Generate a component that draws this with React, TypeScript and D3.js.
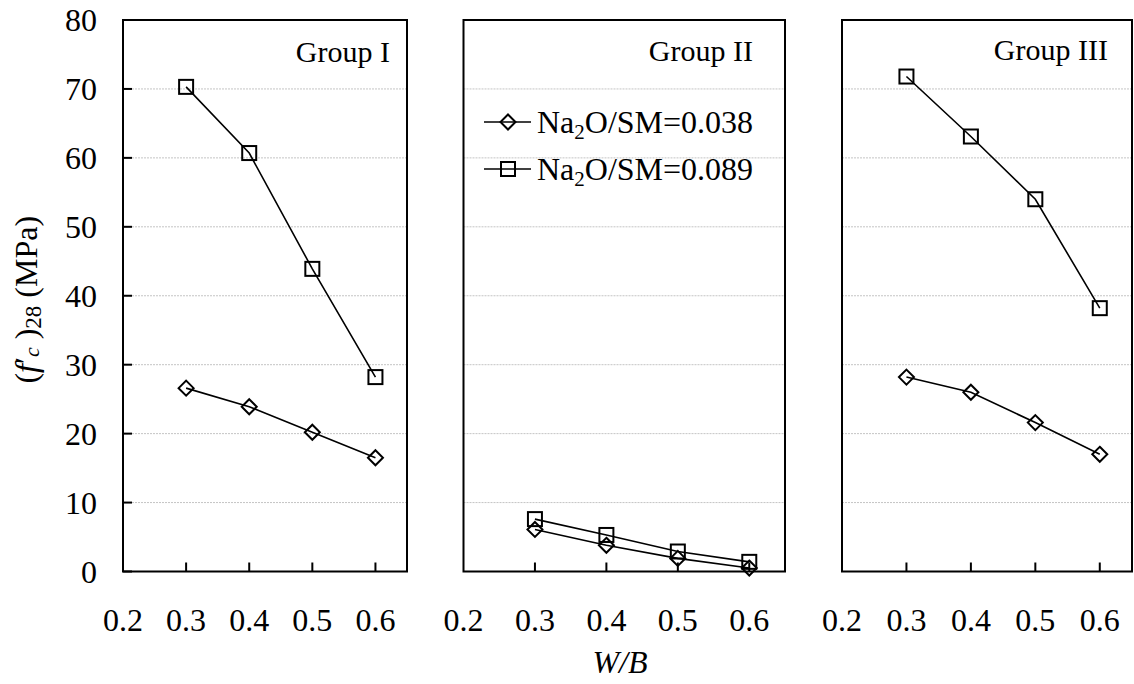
import React from "react";
import * as d3 from "d3";

// W/B ratios
const wbValues = [0.3, 0.4, 0.5, 0.6];
const xTicks = [0.2, 0.3, 0.4, 0.5, 0.6];
const yTicks = [0, 10, 20, 30, 40, 50, 60, 70, 80];
const groupNames = ["Group I", "Group II", "Group III"];
const seriesNames = ["0.038", "0.089"];

// (f'c)28 in MPa
const groupI_038 = [26.6, 23.9, 20.2, 16.5];
const groupI_089 = [70.3, 60.7, 43.9, 28.2];
const groupII_038 = [6.1, 3.8, 1.9, 0.5];
const groupII_089 = [7.6, 5.3, 2.9, 1.4];
const groupIII_038 = [28.2, 26.0, 21.6, 17.0];
const groupIII_089 = [71.8, 63.1, 54.0, 38.2];

const FONT = '"Liberation Serif", "Times New Roman", Times, "DejaVu Serif", serif';
const top = 20;
const bottom = 571.5;

// pixel extents of the three panels
const panels = [
  { x0: 123, x1: 407, low: groupI_038, high: groupI_089, labelX: 390, labelY: 62 },
  { x0: 463.5, x1: 785, low: groupII_038, high: groupII_089, labelX: 753, labelY: 61 },
  { x0: 842, x1: 1132, low: groupIII_038, high: groupIII_089, labelX: 1108, labelY: 60 },
];

const diamond = (s: number) => `M0,${-s}L${s},0L0,${s}L${-s},0Z`;

const Marker = ({ kind, x, y }: { kind: string; x: number; y: number }) =>
  kind === "diamond" ? (
    <path d={diamond(7.5)} transform={`translate(${x},${y})`} fill="none" stroke="#000" strokeWidth={2} />
  ) : (
    <rect x={x - 7} y={y - 7} width={14} height={14} fill="none" stroke="#000" strokeWidth={2} />
  );

export default function App() {
  const y = d3.scaleLinear().domain([0, 80]).range([bottom, top]);

  return (
    <svg width={1134} height={684} style={{ position: "absolute", left: 0, top: 0, background: "#fff", fontFamily: FONT }}>
      {panels.map((p, pi) => {
        const x = d3.scaleLinear().domain([0.2, 0.65]).range([p.x0, p.x1]);
        const line = d3
          .line<number>()
          .x((_, i) => x(wbValues[i]))
          .y((d) => y(d));
        return (
          <g key={pi}>
            {/* gridlines */}
            {yTicks.slice(1, -1).map((t) => (
              <line key={t} x1={p.x0} x2={p.x1} y1={y(t)} y2={y(t)} stroke="#c4c4c4" strokeWidth={1} strokeDasharray="2,1" />
            ))}
            {/* frame */}
            <rect x={p.x0} y={top} width={p.x1 - p.x0} height={bottom - top} fill="none" stroke="#000" strokeWidth={2} />
            {/* x ticks, pointing inwards */}
            {xTicks.slice(1).map((t) => (
              <line key={t} x1={x(t)} x2={x(t)} y1={bottom} y2={bottom - 9} stroke="#000" strokeWidth={2} />
            ))}
            {xTicks.map((t) => (
              <text key={t} x={x(t)} y={631} textAnchor="middle" fontSize={32}>
                {t.toFixed(1)}
              </text>
            ))}
            {/* y ticks only on the first panel */}
            {pi === 0 &&
              yTicks.map((t) => (
                <g key={t}>
                  <line x1={p.x0} x2={p.x0 + 9} y1={y(t)} y2={y(t)} stroke="#000" strokeWidth={2} />
                  <text x={97} y={y(t) + 11} textAnchor="end" fontSize={32}>
                    {t}
                  </text>
                </g>
              ))}
            {/* series */}
            <path d={line(p.high) || ""} fill="none" stroke="#000" strokeWidth={1.6} />
            <path d={line(p.low) || ""} fill="none" stroke="#000" strokeWidth={1.6} />
            {p.high.map((v, i) => (
              <Marker key={"h" + i} kind="square" x={x(wbValues[i])} y={y(v)} />
            ))}
            {p.low.map((v, i) => (
              <Marker key={"l" + i} kind="diamond" x={x(wbValues[i])} y={y(v)} />
            ))}
            <text x={p.labelX} y={p.labelY} textAnchor="end" fontSize={30}>
              {groupNames[pi]}
            </text>
          </g>
        );
      })}

      {/* legend */}
      {seriesNames.map((s, i) => {
        const ly = 122 + i * 47;
        return (
          <g key={s}>
            <line x1={484} x2={531} y1={ly} y2={ly} stroke="#000" strokeWidth={1.6} />
            <Marker kind={i === 0 ? "diamond" : "square"} x={508} y={ly} />
            <text x={537} y={ly + 11} fontSize={32}>
              Na
              <tspan fontSize={21} dy={6}>2</tspan>
              <tspan dy={-6}>O/SM={s}</tspan>
            </text>
          </g>
        );
      })}

      {/* axis titles */}
      <text x={620} y={673} textAnchor="middle" fontSize={32} fontStyle="italic">
        W/B
      </text>
      <text transform={`translate(37,${(top + bottom) / 2 + 4}) rotate(-90)`} textAnchor="middle" fontSize={32}>
        (<tspan fontStyle="italic">f</tspan>′<tspan fontStyle="italic" fontSize={22} dy={2}>c</tspan>
        <tspan dy={-2}> )</tspan>
        <tspan fontSize={23} dy={4}>28</tspan>
        <tspan dy={-4}> (MPa)</tspan>
      </text>
    </svg>
  );
}
